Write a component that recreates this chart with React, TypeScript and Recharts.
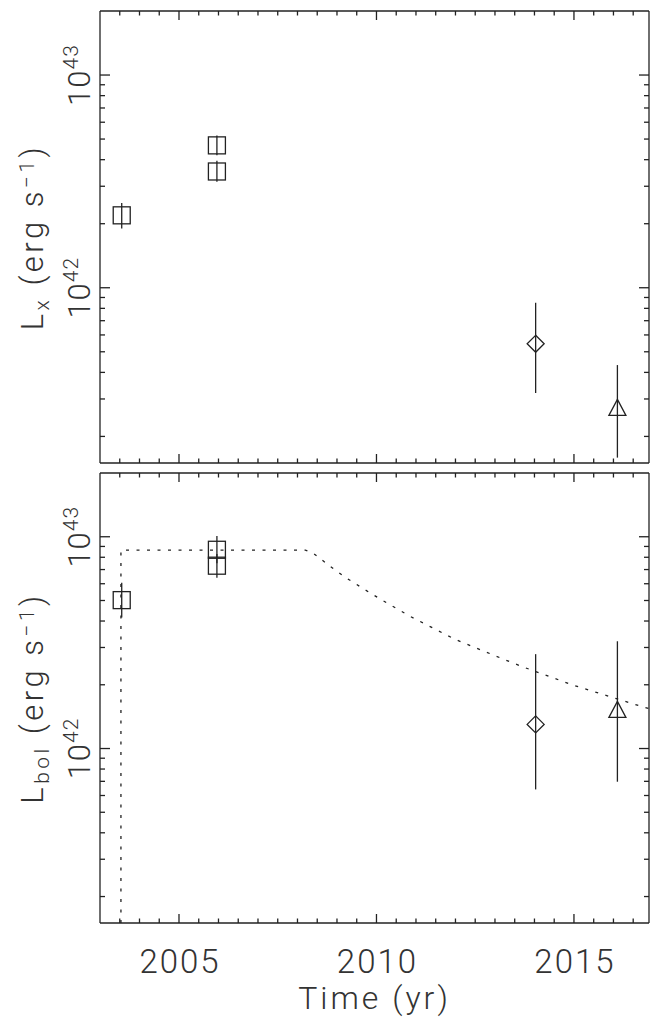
import React from 'react';
import { ComposedChart, Scatter, Line, XAxis, YAxis, ErrorBar } from 'recharts';

// tick positions
const xTicks = [
  2003.5, 2004, 2004.5, 2005, 2005.5, 2006, 2006.5, 2007, 2007.5, 2008, 2008.5, 2009, 2009.5,
  2010, 2010.5, 2011, 2011.5, 2012, 2012.5, 2013, 2013.5, 2014, 2014.5, 2015, 2015.5, 2016, 2016.5,
];
const xLabelTicks = [2005, 2010, 2015];
const yTicks = [
  2e41, 3e41, 4e41, 5e41, 6e41, 7e41, 8e41, 9e41, 1e42,
  2e42, 3e42, 4e42, 5e42, 6e42, 7e42, 8e42, 9e42, 1e43,
];
const yLabelTicks = [1e42, 1e43];

// squares (XMM / Chandra epochs)
const squareYears = [2003.55, 2005.96, 2005.96];
const squareLx = [2.19e42, 4.67e42, 3.52e42];
const squareLxLow = [1.9e42, 4.2e42, 3.15e42];
const squareLxHigh = [2.5e42, 5.2e42, 3.95e42];
const squareLbol = [5.02e42, 8.68e42, 7.3e42];
const squareLbolLow = [4.16e42, 7.5e42, 6.4e42];
const squareLbolHigh = [6.07e42, 1.007e43, 8.3e42];

// diamond
const diamondYears = [2014.03];
const diamondLx = [5.45e41];
const diamondLxLow = [3.2e41];
const diamondLxHigh = [8.5e41];
const diamondLbol = [1.3e42];
const diamondLbolLow = [6.41e41];
const diamondLbolHigh = [2.79e42];

// triangle
const triangleYears = [2016.1];
const triangleLx = [2.74e41];
const triangleLxLow = [1.59e41];
const triangleLxHigh = [4.33e41];
const triangleLbol = [1.53e42];
const triangleLbolLow = [6.97e41];
const triangleLbolHigh = [3.21e42];

// dotted model curve (bottom panel)
const modelYears = [
  2003.53, 2003.53, 2008.2, 2008.39, 2008.81, 2009.24, 2009.69, 2010.14, 2010.84,
  2012.0, 2013.22, 2013.73, 2014.97, 2015.99, 2016.76, 2016.9,
];
const modelLbol = [
  1.5e41, 8.65e42, 8.65e42, 8.39e42, 7.29e42, 6.38e42, 5.65e42, 5.02e42, 4.22e42,
  3.27e42, 2.64e42, 2.42e42, 1.995e42, 1.74e42, 1.57e42, 1.545e42,
];

const X_DOMAIN: [number, number] = [2003, 2016.9];
const Y_DOMAIN: [number, number] = [1.5e41, 2e43];

const AXIS = '#222';
const TEXT = '#333';
const FONT = 'Roboto, "Liberation Sans", sans-serif';
const LW = 1.3;

const toPoints = (xs: number[], ys: number[], lo: number[], hi: number[]) =>
  xs.map((x, i) => ({ x, y: ys[i], err: [ys[i] - lo[i], hi[i] - ys[i]] }));

const modelData = modelYears.map((x, i) => ({ x, y: modelLbol[i] }));

const Square = (p: any) => (
  <rect x={p.cx - 8.5} y={p.cy - 8.5} width={17} height={17} fill="none" stroke={AXIS} strokeWidth={LW} />
);
const Diamond = (p: any) => (
  <polygon
    points={`${p.cx},${p.cy - 8.5} ${p.cx + 8.5},${p.cy} ${p.cx},${p.cy + 8.5} ${p.cx - 8.5},${p.cy}`}
    fill="none"
    stroke={AXIS}
    strokeWidth={LW}
  />
);
const Triangle = (p: any) => (
  <polygon
    points={`${p.cx},${p.cy - 8} ${p.cx + 8.5},${p.cy + 8} ${p.cx - 8.5},${p.cy + 8}`}
    fill="none"
    stroke={AXIS}
    strokeWidth={LW}
  />
);

const BottomTick = (props: any) => {
  const { x, y, payload, showLabels } = props;
  const v = payload.value;
  const major = xLabelTicks.includes(v);
  return (
    <g>
      <line x1={x} y1={y} x2={x} y2={y - (major ? 9 : 4.5)} stroke={AXIS} strokeWidth={LW} />
      {showLabels && major && (
        <text
          x={x + 1}
          y={y + 50}
          textAnchor="middle"
          fontSize={33}
          letterSpacing={2}
          fontFamily={FONT}
          fontWeight={300}
          fill={TEXT}
        >
          {v}
        </text>
      )}
    </g>
  );
};

const TopTick = (props: any) => {
  const { x, y, payload } = props;
  const major = xLabelTicks.includes(payload.value);
  return <line x1={x} y1={y} x2={x} y2={y + (major ? 9 : 4.5)} stroke={AXIS} strokeWidth={LW} />;
};

const LeftTick = (props: any) => {
  const { x, y, payload } = props;
  const v = payload.value;
  const major = yLabelTicks.includes(v);
  const exp = Math.round(Math.log10(v));
  return (
    <g>
      <line x1={x} y1={y} x2={x + (major ? 10 : 5)} y2={y} stroke={AXIS} strokeWidth={LW} />
      {major && (
        <text
          x={x - 10}
          y={y}
          transform={`rotate(-90 ${x - 10} ${y})`}
          textAnchor="middle"
          fontSize={31}
          letterSpacing={1}
          fontFamily={FONT}
          fontWeight={300}
          fill={TEXT}
        >
          10<tspan dy={-12} fontSize={21}>{exp}</tspan>
        </text>
      )}
    </g>
  );
};

const RightTick = (props: any) => {
  const { x, y, payload } = props;
  const major = yLabelTicks.includes(payload.value);
  return <line x1={x} y1={y} x2={x - (major ? 10 : 5)} y2={y} stroke={AXIS} strokeWidth={LW} />;
};

const YTitle = ({ cy, sub }: { cy: number; sub: string }) => {
  const bx = 43;
  return (
    <text
      x={bx}
      y={cy}
      transform={`rotate(-90 ${bx} ${cy})`}
      textAnchor="middle"
      fontSize={31}
      letterSpacing={3.5}
      fontFamily={FONT}
      fontWeight={300}
      fill={TEXT}
    >
      L<tspan dy={6} fontSize={21}>{sub}</tspan>
      <tspan dy={-6}> (erg s</tspan>
      <tspan dy={-9} fontSize={21}>−1</tspan>
      <tspan dy={9}>)</tspan>
    </text>
  );
};

const XTitle = () => (
  <text
    x={374.5}
    y={541}
    textAnchor="middle"
    fontSize={32}
    letterSpacing={3}
    fontFamily={FONT}
    fontWeight={300}
    fill={TEXT}
  >
    Time (yr)
  </text>
);

interface PanelProps {
  height: number;
  top: number;
  bottomAxisHeight: number;
  showLabels: boolean;
  sub: string;
  titleY: number;
  squares: any[];
  diamonds: any[];
  triangles: any[];
  model?: any[];
}

const Panel: React.FC<PanelProps> = (p) => (
  <ComposedChart
    width={652}
    height={p.height}
    margin={{ top: p.top, right: 2, bottom: 0, left: 0 }}
  >
    <XAxis
      xAxisId="b"
      dataKey="x"
      type="number"
      domain={X_DOMAIN}
      allowDataOverflow
      ticks={xTicks}
      interval={0}
      height={p.bottomAxisHeight}
      tickSize={0}
      tickMargin={0}
      tickLine={false}
      axisLine={{ stroke: AXIS, strokeWidth: LW }}
      tick={<BottomTick showLabels={p.showLabels} />}
      label={p.showLabels ? <XTitle /> : undefined}
    />
    <XAxis
      xAxisId="t"
      orientation="top"
      dataKey="x"
      type="number"
      domain={X_DOMAIN}
      allowDataOverflow
      ticks={xTicks}
      interval={0}
      height={1}
      tickSize={0}
      tickMargin={0}
      tickLine={false}
      axisLine={{ stroke: AXIS, strokeWidth: LW }}
      tick={<TopTick />}
    />
    <YAxis
      yAxisId="l"
      dataKey="y"
      type="number"
      scale="log"
      domain={Y_DOMAIN}
      allowDataOverflow
      ticks={yTicks}
      interval={0}
      width={100}
      tickSize={0}
      tickMargin={0}
      tickLine={false}
      axisLine={{ stroke: AXIS, strokeWidth: LW }}
      tick={<LeftTick />}
      label={<YTitle cy={p.titleY} sub={p.sub} />}
    />
    <YAxis
      yAxisId="r"
      orientation="right"
      type="number"
      scale="log"
      domain={Y_DOMAIN}
      allowDataOverflow
      ticks={yTicks}
      interval={0}
      width={1}
      tickSize={0}
      tickMargin={0}
      tickLine={false}
      axisLine={{ stroke: AXIS, strokeWidth: LW }}
      tick={<RightTick />}
    />
    {p.model && (
      <Line
        xAxisId="b"
        yAxisId="l"
        data={p.model}
        dataKey="y"
        type="linear"
        stroke={AXIS}
        strokeWidth={LW}
        strokeDasharray="3 7.5"
        dot={false}
        activeDot={false}
        isAnimationActive={false}
      />
    )}
    <Scatter xAxisId="b" yAxisId="l" data={p.squares} dataKey="y" shape={Square} isAnimationActive={false}>
      <ErrorBar dataKey="err" direction="y" width={0} stroke={AXIS} strokeWidth={LW} />
    </Scatter>
    <Scatter xAxisId="b" yAxisId="l" data={p.diamonds} dataKey="y" shape={Diamond} isAnimationActive={false}>
      <ErrorBar dataKey="err" direction="y" width={0} stroke={AXIS} strokeWidth={LW} />
    </Scatter>
    <Scatter xAxisId="b" yAxisId="l" data={p.triangles} dataKey="y" shape={Triangle} isAnimationActive={false}>
      <ErrorBar dataKey="err" direction="y" width={0} stroke={AXIS} strokeWidth={LW} />
    </Scatter>
  </ComposedChart>
);

export default function App() {
  return (
    <div style={{ position: 'absolute', left: 0, top: 0, width: 652, height: 1020, background: '#fff' }}>
      <div style={{ position: 'absolute', left: 0, top: 0 }}>
        <Panel
          height={468}
          top={10}
          bottomAxisHeight={5}
          showLabels={false}
          sub="x"
          titleY={237}
          squares={toPoints(squareYears, squareLx, squareLxLow, squareLxHigh)}
          diamonds={toPoints(diamondYears, diamondLx, diamondLxLow, diamondLxHigh)}
          triangles={toPoints(triangleYears, triangleLx, triangleLxLow, triangleLxHigh)}
        />
      </div>
      <div style={{ position: 'absolute', left: 0, top: 468 }}>
        <Panel
          height={552}
          top={4}
          bottomAxisHeight={97}
          showLabels
          sub="bol"
          titleY={230}
          squares={toPoints(squareYears, squareLbol, squareLbolLow, squareLbolHigh)}
          diamonds={toPoints(diamondYears, diamondLbol, diamondLbolLow, diamondLbolHigh)}
          triangles={toPoints(triangleYears, triangleLbol, triangleLbolLow, triangleLbolHigh)}
          model={modelData}
        />
      </div>
    </div>
  );
}
